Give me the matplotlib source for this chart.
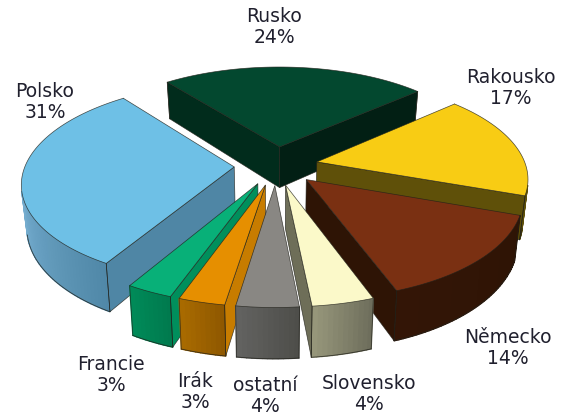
import numpy as np
import matplotlib
matplotlib.use("Agg")
import matplotlib.pyplot as plt
from matplotlib.colors import to_rgb
from matplotlib.patches import Polygon

# Data (clockwise from the first slice)
categories = ["Rusko", "Rakousko", "Německo", "Slovensko", "ostatní", "Irák", "Francie", "Polsko"]
values = [24, 17, 14, 4, 4, 3, 3, 31]

# Styles: top face, side (cut) face, outer wall left / right shade
top_colors = ["#03482f", "#f8cc14", "#7a3012", "#fbf9c9", "#898783", "#e68f00", "#08b078", "#6ec0e6"]
cut_start = ["#012c1c", "#5f5009", "#331506", "#6e6e58", "#555551", "#c77c00", "#008f5c", "#4f86a5"]
cut_end = ["#021f14", "#5f5009", "#2e1405", "#6e6e58", "#555551", "#c77c00", "#008f5c", "#4f86a5"]
wall_left = ["#02241a", "#5f5009", "#331506", "#96967a", "#626260", "#a86a00", "#008a58", "#5088a8"]
wall_right = ["#02241a", "#5f5009", "#2e1405", "#6e6e5c", "#4e4e4a", "#8f5800", "#007a4e", "#74acce"]
draw_order = [0, 1, 7, 2, 6, 5, 3, 4]

# Label centres (pixels)
label_pos = {"Rusko": (274, 27), "Rakousko": (511, 88), "Německo": (508, 348), "Slovensko": (369, 394),
             "ostatní": (265, 396), "Irák": (195, 392), "Francie": (111, 375), "Polsko": (45, 102)}

START_DEG = -38.0
EXPLODE = 0.2
CX, CY, A, B, P = 276.0, 165.6, 209.0, 97.0, 0.15
DEPTH = 42.0
BOTTOM_SHRINK = 0.978
LINE = (0.13, 0.13, 0.10, 0.8)


def project(u, v, lower=False):
    f = 1.0 / (1.0 + P * v)
    x = A * u * f
    y = CY - B * v * f
    if lower:
        x *= BOTTOM_SHRINK
        y = y + DEPTH * f
    return np.column_stack([CX + x, y])


def area(poly):
    x, y = poly[:, 0], poly[:, 1]
    return 0.5 * np.sum(x * np.roll(y, -1) - np.roll(x, -1) * y)


def mix(c1, c2, t):
    a, b = np.array(to_rgb(c1)), np.array(to_rgb(c2))
    return tuple(a + (b - a) * t)


fig = plt.figure(figsize=(5.68, 4.16), dpi=100)
ax = fig.add_axes([0, 0, 1, 1])
ax.set_xlim(0, 568)
ax.set_ylim(416, 0)
ax.axis("off")

edges = np.radians(START_DEG + np.concatenate([[0], np.cumsum(values)]) * 3.6)

for i in draw_order:
    a0, a1 = edges[i], edges[i + 1]
    mid = (a0 + a1) / 2
    ox, oy = EXPLODE * np.sin(mid), EXPLODE * np.cos(mid)
    th = np.linspace(a0, a1, max(int(values[i] * 3), 6) + 1)
    u = np.concatenate([[ox], ox + np.sin(th)])
    v = np.concatenate([[oy], oy + np.cos(th)])
    top = project(u, v)
    low = project(u, v, lower=True)
    ref_sign = np.sign(area(top))
    z = 10 * draw_order.index(i)

    # outer wall, one quad per step, culled when it faces away
    visible = []
    for k in range(1, len(th)):
        quad = np.array([top[k], top[k + 1], low[k + 1], low[k]])
        if area(quad) * ref_sign < 0:
            visible.append(k)
    for n, k in enumerate(visible):
        quad = np.array([top[k], top[k + 1], low[k + 1], low[k]])
        t = n / max(len(visible) - 1, 1)
        col = mix(wall_right[i], wall_left[i], t) if i != 7 else mix(wall_left[i], wall_right[i], t)
        ax.add_patch(Polygon(quad, closed=True, facecolor=col, edgecolor=col, lw=1.0, zorder=z + 1))
    if visible:
        ks = visible + [visible[-1] + 1]
        ax.plot(low[ks, 0], low[ks, 1], color=LINE, lw=0.6, zorder=z + 3)
    # cut faces
    faces = [(np.array([top[0], low[0], low[1], top[1]]), cut_start[i]),
             (np.array([top[0], top[-1], low[-1], low[0]]), cut_end[i])]
    for poly, col in faces:
        if area(poly) * ref_sign > 0:
            ax.add_patch(Polygon(poly, closed=True, facecolor=col, edgecolor=LINE, lw=0.5, zorder=z + 2))
    for idx in (1, -1):
        ax.plot([top[idx][0], low[idx][0]], [top[idx][1], low[idx][1]], color=LINE, lw=0.5, zorder=z + 3)
    ax.add_patch(Polygon(top, closed=True, facecolor=top_colors[i], edgecolor=LINE, lw=0.5, zorder=z + 4))

for name, val in zip(categories, values):
    x, y = label_pos[name]
    ax.text(x, y, f"{name}\n{val}%", ha="center", va="center", fontsize=13.5, linespacing=1.08,
            color="#20202e", family="DejaVu Sans", zorder=200)

fig.savefig("out.png", dpi=100)
